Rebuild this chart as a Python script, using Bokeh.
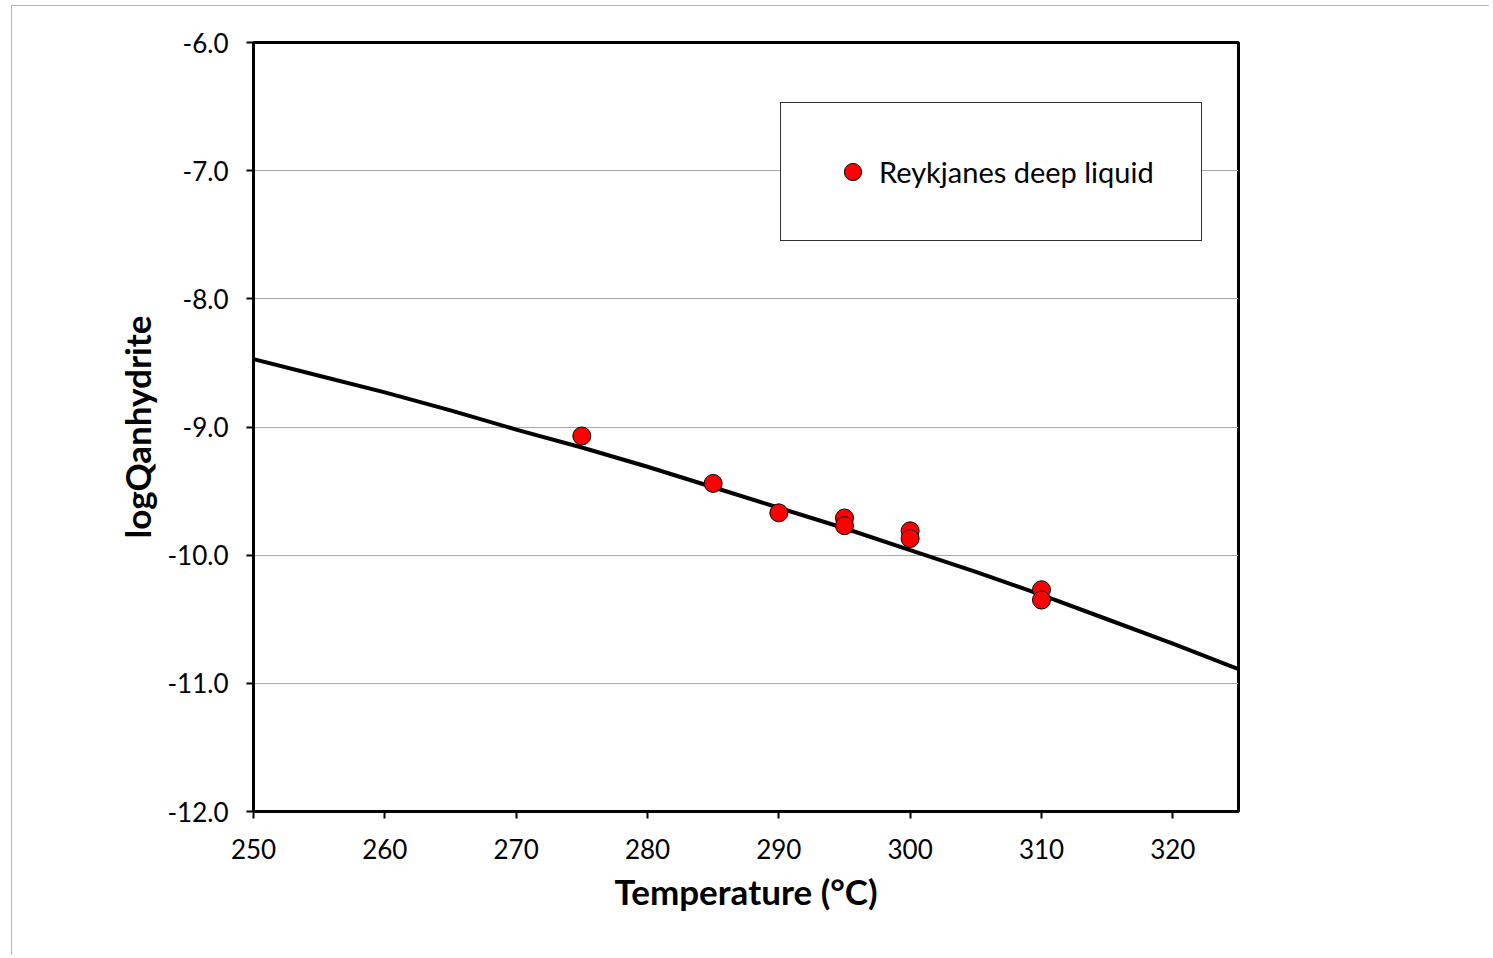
from bokeh.plotting import figure
from bokeh.models import ColumnDataSource, FixedTicker, NumeralTickFormatter, Legend, LegendItem, Range1d
from bokeh.embed import file_html
from bokeh.resources import INLINE

# Data
temp_points = [275, 285, 290, 295, 295, 300, 300, 310, 310]
logq_points = [-9.07, -9.44, -9.67, -9.71, -9.77, -9.81, -9.87, -10.27, -10.35]

curve_temp = [250, 255, 260, 265, 270, 275, 280, 285, 290, 295, 300, 305, 310, 315, 320, 325]
curve_logq = [-8.47, -8.60, -8.73, -8.87, -9.02, -9.16, -9.31, -9.47, -9.63, -9.79,
              -9.96, -10.13, -10.31, -10.50, -10.69, -10.89]

x_ticks = [250, 260, 270, 280, 290, 300, 310, 320]
y_ticks = [-12.0, -11.0, -10.0, -9.0, -8.0, -7.0, -6.0]

FONT = "Lato"

W, H = 1478, 950
p = figure(width=W, height=H, output_backend="svg", toolbar_location=None,
           x_range=Range1d(250, 325), y_range=Range1d(-12, -6),
           min_border_left=241, min_border_top=36,
           min_border_right=W - 1226, min_border_bottom=H - 805)
p.styles = {"margin-left": "11px", "margin-top": "5px",
            "border-left": "1px solid #b4b4b4", "border-top": "1px solid #b4b4b4"}

p.background_fill_color = "white"
p.border_fill_color = "white"
p.outline_line_color = "black"
p.outline_line_width = 3

# grid
p.xgrid.grid_line_color = None
p.ygrid.grid_line_color = "#a8a8a8"
p.ygrid.grid_line_width = 1

# axes
p.xaxis.ticker = FixedTicker(ticks=x_ticks)
p.yaxis.ticker = FixedTicker(ticks=y_ticks)
p.yaxis.formatter = NumeralTickFormatter(format="0.0")
for ax in (p.xaxis[0], p.yaxis[0]):
    ax.axis_line_color = "black"
    ax.axis_line_width = 3
    ax.major_tick_line_color = "black"
    ax.major_tick_line_width = 2
    ax.major_tick_in = 0
    ax.major_tick_out = 7
    ax.minor_tick_line_color = None
    ax.major_label_text_font = FONT
    ax.major_label_text_font_size = "26px"
    ax.major_label_text_color = "black"
    ax.axis_label_text_font = FONT
    ax.axis_label_text_font_size = "35px"
    ax.axis_label_text_font_style = "bold"
    ax.axis_label_text_color = "black"

p.xaxis.axis_label = "Temperature (°C)"
p.yaxis.axis_label = "logQanhydrite"
p.xaxis.major_label_standoff = 20
p.yaxis.major_label_standoff = 18
p.xaxis.axis_label_standoff = 8
p.yaxis.axis_label_standoff = 6

curve_src = ColumnDataSource(dict(t=curve_temp, q=curve_logq))
pts_src = ColumnDataSource(dict(t=temp_points, q=logq_points))

p.line("t", "q", source=curve_src, line_color="black", line_width=4)
pts = p.scatter("t", "q", source=pts_src, marker="circle", size=18,
                fill_color="#ff0000", line_color="black", line_width=1)

legend = Legend(items=[LegendItem(label="Reykjanes deep liquid", renderers=[pts])],
                location=(527, 570))
legend.label_text_font = FONT
legend.label_text_font_size = "29px"
legend.label_text_color = "black"
legend.padding = 47
legend.margin = 0
legend.spacing = 0
legend.glyph_width = 49
legend.glyph_height = 43
legend.label_height = 43
legend.label_standoff = 2
legend.border_line_color = "#303030"
legend.border_line_alpha = 1
legend.border_line_width = 1
legend.background_fill_color = "white"
legend.background_fill_alpha = 1
p.add_layout(legend, "center")

open("out.html", "w").write(file_html(p, INLINE))
